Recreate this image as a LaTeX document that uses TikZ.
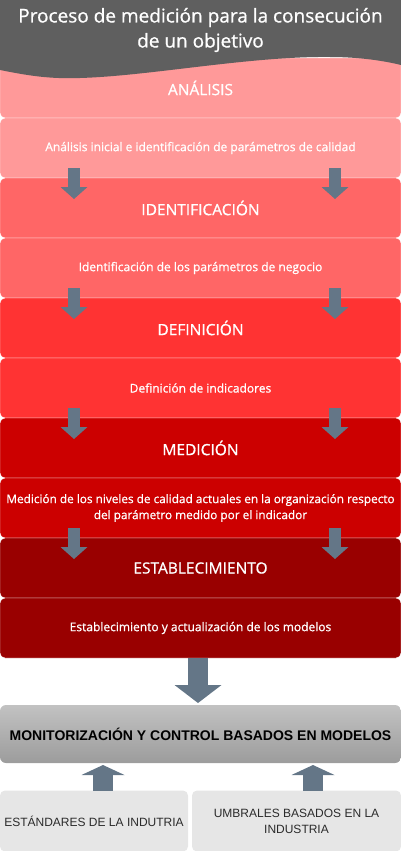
\documentclass[tikz,border=0pt]{standalone}
\usepackage{fontspec}
\usetikzlibrary{arrows.meta, positioning}
\newfontfamily\handfont[FakeBold=0.8]{Open Sans}
\newfontfamily\arialfont{Liberation Sans}
\definecolor{titlegray}{HTML}{5F5F5F}
\definecolor{arrowblue}{HTML}{647687}
\definecolor{stepA}{HTML}{FF9999}
\definecolor{stepB}{HTML}{FF6666}
\definecolor{stepC}{HTML}{FF3333}
\definecolor{stepD}{HTML}{CC0000}
\definecolor{stepE}{HTML}{990000}
\definecolor{montop}{HTML}{C2C2C2}
\definecolor{monbottom}{HTML}{9C9C9C}
\definecolor{sourcegray}{HTML}{E6E6E6}
\definecolor{sourcetext}{HTML}{2B2B2B}

\begin{document}
\begin{tikzpicture}[x=1pt,y=1pt,node distance=0pt,
      stage/.style={draw=white,rounded corners=5pt,minimum width=401pt,minimum height=60pt,
        outer sep=0pt,inner sep=2pt,text=white,align=center},
      head/.style={stage,font=\handfont\fontsize{15.5}{18}\selectfont},
      desc/.style={stage,font=\handfont\fontsize{12}{16}\selectfont},
      flow/.style={draw=arrowblue,line width=12pt,-{Triangle[length=12pt,width=27pt,line width=0pt]}},
      bigflow/.style={draw=arrowblue,line width=20pt,-{Triangle[length=18pt,width=47pt,line width=0pt]}},
      upflow/.style={draw=arrowblue,line width=20pt,-{Triangle[length=10pt,width=43pt,line width=0pt]}},
      source/.style={fill=sourcegray,rounded corners=5pt,minimum height=61pt,outer sep=0pt,
        text=sourcetext,align=center,font=\arialfont\fontsize{12}{16}\selectfont}]
      \useasboundingbox (0,0) rectangle (401,-851);
      % stages
      \node[head, fill=stepA] (h1) at (200.5,-88) {ANÁLISIS};
      \node[desc, fill=stepA] (d1) [below=of h1] {Análisis inicial e identificación de parámetros de calidad};
      \node[head, fill=stepB] (h2) [below=of d1] {IDENTIFICACIÓN};
      \node[desc, fill=stepB] (d2) [below=of h2] {Identificación de los parámetros de negocio};
      \node[head, fill=stepC] (h3) [below=of d2] {DEFINICIÓN};
      \node[desc, fill=stepC] (d3) [below=of h3] {Definición de indicadores};
      \node[head, fill=stepD] (h4) [below=of d3] {MEDICIÓN};
      \node[desc, fill=stepD, font=\handfont\fontsize{11.8}{16}\selectfont] (d4) [below=of h4]
        {Medición de los niveles de calidad actuales en la organización respecto\\del parámetro medido por el indicador};
      \node[head, fill=stepE] (h5) [below=of d4] {ESTABLECIMIENTO};
      \node[desc, fill=stepE] (d5) [below=of h5] {Establecimiento y actualización de los modelos};
      % title band
      \fill[titlegray] (0,0) -- (401,0) -- (401,-65)
        .. controls (385,-61) and (360,-57) .. (330,-57)
        .. controls (250,-56) and (150,-76) .. (80,-78)
        .. controls (50,-79) and (30,-76) .. (0,-70) -- cycle;
      \node[text=white,align=center,font=\handfont\fontsize{19}{25}\selectfont] (title) at (200.5,-30)
        {Proceso de medición para la consecución\\de un objetivo};
      % result and inputs
      \node[top color=montop,bottom color=monbottom,rounded corners=6pt,minimum width=401pt,
        minimum height=58pt,outer sep=0pt,font=\arialfont\bfseries\fontsize{14}{16}\selectfont,
        text=black] (mon) at (200.5,-734) {MONITORIZACIÓN Y CONTROL BASADOS EN MODELOS};
      \node[source, minimum width=188pt] (std) at (94,-821) {ESTÁNDARES DE LA INDUTRIA};
      \node[source, minimum width=209pt] (thr) [right=4pt of std] {UMBRALES BASADOS EN LA\\INDUSTRIA};
      % arrows
      \draw[flow] ([xshift=74pt,yshift=10pt]d1.south west) -- ([xshift=74pt,yshift=-21pt]h2.north west);
      \draw[flow] ([xshift=-66pt,yshift=10pt]d1.south east) -- ([xshift=-66pt,yshift=-21pt]h2.north east);
      \draw[flow] ([xshift=74pt,yshift=10pt]d2.south west) -- ([xshift=74pt,yshift=-21pt]h3.north west);
      \draw[flow] ([xshift=-66pt,yshift=10pt]d2.south east) -- ([xshift=-66pt,yshift=-21pt]h3.north east);
      \draw[flow] ([xshift=74pt,yshift=10pt]d3.south west) -- ([xshift=74pt,yshift=-21pt]h4.north west);
      \draw[flow] ([xshift=-66pt,yshift=10pt]d3.south east) -- ([xshift=-66pt,yshift=-21pt]h4.north east);
      \draw[flow] ([xshift=74pt,yshift=10pt]d4.south west) -- ([xshift=74pt,yshift=-21pt]h5.north west);
      \draw[flow] ([xshift=-66pt,yshift=10pt]d4.south east) -- ([xshift=-66pt,yshift=-21pt]h5.north east);
      \draw[bigflow] ([xshift=-2.5pt]d5.south) -- ([xshift=-2.5pt,yshift=2pt]mon.north);
      \draw[upflow] ([xshift=9pt]std.north) -- ([xshift=9pt,yshift=-2pt]std.north |- mon.south);
      \draw[upflow] ([xshift=16.5pt]thr.north) -- ([xshift=16.5pt,yshift=-2pt]thr.north |- mon.south);
    \end{tikzpicture}
\end{document}
